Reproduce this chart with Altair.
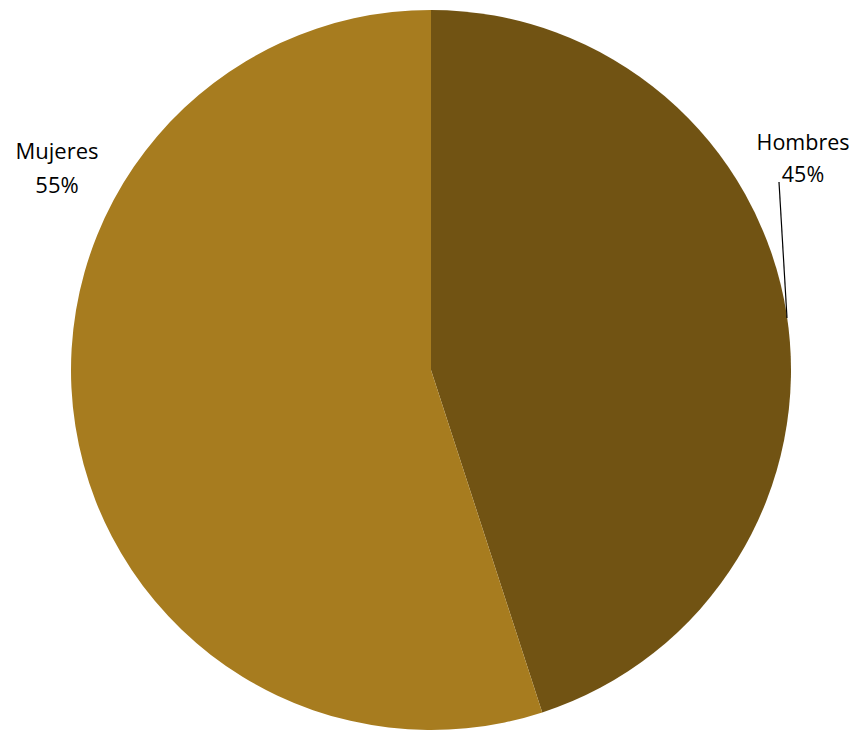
import altair as alt
import pandas as pd

categories = ["Hombres", "Mujeres"]
shares = [45, 55]
colors = ["#715313", "#A77C1F"]

df = pd.DataFrame({"cat": categories, "val": shares, "order": [0, 1]})

# page coords minus 8px margin
cx, cy, r = 423, 362, 360

pie = alt.Chart(df).mark_arc(outerRadius=r, stroke=None).encode(
    theta=alt.Theta("val:Q", stack=True),
    color=alt.Color("cat:N", scale=alt.Scale(domain=categories, range=colors), legend=None),
    order=alt.Order("order:Q"),
    x=alt.value(cx),
    y=alt.value(cy),
)

font = "Open Sans"
lab_h = alt.Chart(df[df.cat == "Hombres"]).mark_text(
    font=font, fontSize=21.5, align="center", baseline="alphabetic", lineHeight=32, color="black"
).encode(
    text=alt.value([categories[0], f"{shares[0]}%"]),
    x=alt.value(795), y=alt.value(142),
)
lab_m = alt.Chart(df[df.cat == "Mujeres"]).mark_text(
    font=font, fontSize=22, align="center", baseline="alphabetic", lineHeight=34, color="black"
).encode(
    text=alt.value([categories[1], f"{shares[1]}%"]),
    x=alt.value(49), y=alt.value(151),
)
leader = alt.Chart(df[df.cat == "Hombres"]).mark_rule(color="black", strokeWidth=1.2).encode(
    x=alt.value(771), y=alt.value(174), x2=alt.value(779), y2=alt.value(310)
)

chart = alt.layer(pie, leader, lab_h, lab_m).properties(
    width=845, height=722, padding=0, background="white",
    autosize=alt.AutoSizeParams(type="fit", contains="padding"),
).configure_view(stroke=None, strokeWidth=0)

chart.save("out.html", embed_options={"renderer": "svg", "actions": False})
